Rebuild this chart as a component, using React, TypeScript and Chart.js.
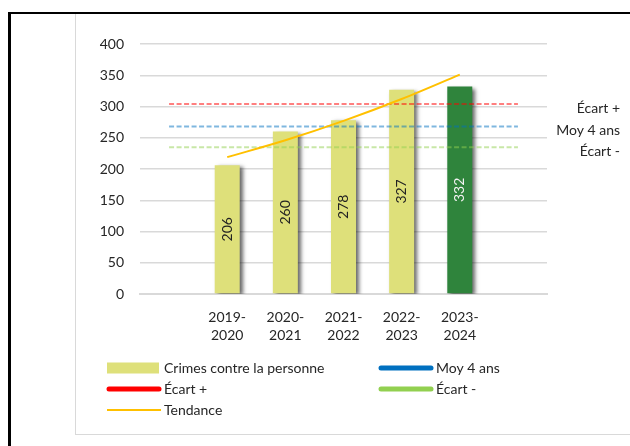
import React, { useEffect, useRef } from 'react';
import { Chart, registerables } from 'chart.js';

Chart.register(...registerables);

const FONT = 'Lato, "Open Sans", sans-serif';
const TEXT = '#262626';

const categories = ['', '2019-2020', '2020-2021', '2021-2022', '2022-2023', '2023-2024', ''];
const crimes = [null, 206, 260, 278, 327, 332, null];
const barColors = ['#DEE07A', '#DEE07A', '#DEE07A', '#DEE07A', '#DEE07A', '#2F843C', '#DEE07A'];
const barLabelColors = ['#222222', '#222222', '#222222', '#222222', '#222222', '#F2F2F2', '#222222'];
const moy4ans = [268, 268, 268, 268, 268, 268, 268];
const ecartPlus = [304, 304, 304, 304, 304, 304, 304];
const ecartMoins = [235, 235, 235, 235, 235, 235, 235];
const tendance = [null, 219, 246, 277, 312, 351, null];
const yMin = 0;
const yMax = 400;
const yStep = 50;

const rightLabels = [
  { text: 'Écart +', series: ecartPlus },
  { text: 'Moy 4 ans', series: moy4ans },
  { text: 'Écart -', series: ecartMoins },
];

const legendItems = [
  { text: 'Crimes contre la personne', kind: 'box', color: '#DEE07A', col: 0, row: 0 },
  { text: 'Moy 4 ans', kind: 'thick', color: '#0070C0', col: 1, row: 0 },
  { text: 'Écart +', kind: 'thick', color: '#FF0000', col: 0, row: 1 },
  { text: 'Écart -', kind: 'thick', color: '#92D050', col: 1, row: 1 },
  { text: 'Tendance', kind: 'thin', color: '#FFC000', col: 0, row: 2 },
];

const shadowPlugin = {
  id: 'barShadow',
  beforeDatasetDraw(chart: any, args: any) {
    if (args.meta.type !== 'bar') return;
    const ctx = chart.ctx;
    ctx.save();
    ctx.shadowColor = 'rgba(0,0,0,0.6)';
    ctx.shadowOffsetX = 3;
    ctx.shadowOffsetY = 2;
    ctx.shadowBlur = 4;
  },
  afterDatasetDraw(chart: any, args: any) {
    if (args.meta.type !== 'bar') return;
    chart.ctx.restore();
  },
};

const labelsPlugin = {
  id: 'customLabels',
  afterDatasetsDraw(chart: any) {
    const ctx = chart.ctx;
    const y = chart.scales.y;
    chart.data.datasets.forEach((ds: any, di: number) => {
      const meta = chart.getDatasetMeta(di);
      if (meta.type !== 'bar') return;
      meta.data.forEach((el: any, i: number) => {
        const v = ds.data[i];
        if (v == null) return;
        ctx.save();
        ctx.translate(el.x, (el.y + el.base) / 2);
        ctx.rotate(-Math.PI / 2);
        ctx.font = `14px ${FONT}`;
        ctx.fillStyle = barLabelColors[i];
        ctx.textAlign = 'center';
        ctx.textBaseline = 'middle';
        ctx.fillText(String(v), 0, 0);
        ctx.restore();
      });
    });
    ctx.save();
    ctx.font = `14px ${FONT}`;
    ctx.fillStyle = TEXT;
    ctx.textAlign = 'right';
    ctx.textBaseline = 'middle';
    rightLabels.forEach((l) => {
      const v = l.series[l.series.length - 1];
      ctx.fillText(l.text, 620, y.getPixelForValue(v) + 4);
    });
    ctx.restore();
  },
  afterDraw(chart: any) {
    const ctx = chart.ctx;
    const colX = [107, 379];
    const rowY = [368, 389, 410];
    const sw = 54;
    ctx.save();
    ctx.font = `14px ${FONT}`;
    ctx.textBaseline = 'middle';
    ctx.textAlign = 'left';
    legendItems.forEach((it) => {
      const x = colX[it.col];
      const yy = rowY[it.row];
      if (it.kind === 'box') {
        ctx.fillStyle = it.color;
        ctx.fillRect(x, yy - 5.5, 52, 11);
      } else {
        ctx.strokeStyle = it.color;
        ctx.lineWidth = it.kind === 'thick' ? 5 : 2;
        ctx.lineCap = it.kind === 'thick' ? 'round' : 'butt';
        ctx.beginPath();
        ctx.moveTo(x + (it.kind === 'thick' ? 2 : 0), yy);
        ctx.lineTo(x + sw - (it.kind === 'thick' ? 2 : 0), yy);
        ctx.stroke();
      }
      ctx.fillStyle = TEXT;
      ctx.fillText(it.text, x + 57, yy);
    });
    ctx.restore();
  },
};

export default function App() {
  const ref = useRef<HTMLCanvasElement>(null);

  useEffect(() => {
    if (!ref.current) return;
    const lineBase = {
      type: 'line' as const,
      pointRadius: 0,
      pointHoverRadius: 0,
      fill: false,
      tension: 0,
      order: 1,
    };
    const chart = new Chart(ref.current, {
      type: 'bar',
      data: {
        labels: categories.map((c) => (c ? [c.split('-')[0] + '-', c.split('-')[1]] : '')),
        datasets: [
          {
            ...lineBase,
            label: 'Tendance',
            data: tendance,
            borderColor: '#FFC000',
            borderWidth: 2,
            cubicInterpolationMode: 'monotone',
            spanGaps: true,
          },
          {
            ...lineBase,
            label: 'Écart +',
            data: ecartPlus,
            borderColor: 'rgba(255,0,0,0.5)',
            borderWidth: 2,
            borderDash: [5, 2.5],
          },
          {
            ...lineBase,
            label: 'Moy 4 ans',
            data: moy4ans,
            borderColor: 'rgba(0,112,192,0.5)',
            borderWidth: 2,
            borderDash: [5, 2.5],
          },
          {
            ...lineBase,
            label: 'Écart -',
            data: ecartMoins,
            borderColor: 'rgba(146,208,80,0.5)',
            borderWidth: 2,
            borderDash: [5, 2.5],
          },
          {
            type: 'bar',
            label: 'Crimes contre la personne',
            data: crimes,
            backgroundColor: barColors,
            borderWidth: 0,
            categoryPercentage: 1,
            barPercentage: 0.43,
            order: 10,
          },
        ] as any,
      },
      options: {
        animation: false,
        responsive: false,
        maintainAspectRatio: false,
        devicePixelRatio: 1,
        layout: { padding: { left: 0, right: 83, top: 44, bottom: 0 } },
        plugins: {
          legend: { display: false },
          title: { display: false },
          tooltip: { enabled: false },
        },
        scales: {
          x: {
            grid: { display: false, drawTicks: false },
            border: { display: true, color: '#D9D9D9', width: 2 },
            ticks: {
              color: TEXT,
              font: { family: FONT, size: 14, lineHeight: 1.3 },
              padding: 14,
              maxRotation: 0,
              autoSkip: false,
            },
            afterFit: (s: any) => {
              s.height = 152;
            },
          },
          y: {
            min: yMin,
            max: yMax,
            grid: { color: '#D9D9D9', lineWidth: 1.5, drawTicks: false },
            border: { display: false },
            ticks: {
              stepSize: yStep,
              color: TEXT,
              font: { family: FONT, size: 14 },
              padding: 16,
            },
            afterFit: (s: any) => {
              s.width = 140;
            },
          },
        },
      },
      plugins: [shadowPlugin, labelsPlugin],
    });
    return () => chart.destroy();
  }, []);

  return (
    <div style={{ position: 'fixed', left: 0, top: 0, width: 630, height: 446, overflow: 'hidden', background: '#fff' }}>
      <div
        style={{
          position: 'absolute',
          left: 75,
          top: 12,
          width: 700,
          height: 423,
          borderLeft: '1.5px solid #D9D9D9',
          borderBottom: '1.5px solid #D9D9D9',
          boxSizing: 'border-box',
        }}
      />
      <canvas ref={ref} width={630} height={446} style={{ position: 'absolute', left: 0, top: 0, width: 630, height: 446 }} />
      <div
        style={{
          position: 'absolute',
          left: 8,
          top: 12,
          width: 700,
          height: 500,
          borderLeft: '3px solid #000',
          borderTop: '2px solid #000',
          boxSizing: 'border-box',
          pointerEvents: 'none',
        }}
      />
    </div>
  );
}
